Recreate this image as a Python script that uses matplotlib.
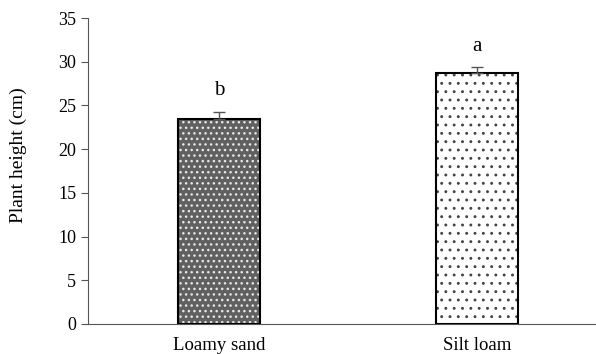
import matplotlib
matplotlib.use("Agg")
import matplotlib.pyplot as plt
import matplotlib as mpl

categories = ["Loamy sand", "Silt loam"]
heights = [23.5, 28.7]
errors = [0.8, 0.7]
letters = ["b", "a"]
yticks = [0, 5, 10, 15, 20, 25, 30, 35]

plt.rcParams['font.family'] = ['Liberation Serif', 'DejaVu Serif']

fig = plt.figure(figsize=(5.96, 3.54), dpi=100)
ax = fig.add_axes([88/596, 30/354, 1 - 88/596, 306/354])

x = [0, 1]
w = 0.318
# bar 1: dark with white dots
mpl.rcParams['hatch.linewidth'] = 1.0
ax.bar(x[0], heights[0], width=w, color='#606060', edgecolor='#e8e8e8', hatch='...', linewidth=0, zorder=2)
# bar 2: white with black dots
mpl.rcParams['hatch.linewidth'] = 0.9
ax.bar(x[1], heights[1], width=w, color='white', edgecolor='#444444', hatch='..', linewidth=0, zorder=2)
ax.bar(x, heights, width=w, color='none', edgecolor='black', linewidth=1.5, zorder=3)
ax.errorbar(x, heights, yerr=[[0, 0], errors], fmt='none', ecolor='#555555', elinewidth=1, capsize=4, capthick=1, zorder=4)

for xi, h, e, l in zip(x, heights, errors, letters):
    ax.text(xi, h + e + 1.3, l, ha='center', va='bottom', fontsize=15)

ax.set_xlim(-0.508, 1.461)
ax.set_ylim(0, 35)
ax.set_yticks(yticks)
ax.set_xticks(x)
ax.set_xticklabels(categories, fontsize=13.5)
ax.tick_params(axis='x', length=0, pad=9)
ax.tick_params(axis='y', direction='out', length=5, labelsize=13, color='#555555')
fig.text(18/596, 1 - 155/354, "Plant height (cm)", rotation=90, ha='center', va='center', fontsize=14)
for s in ['top', 'right']:
    ax.spines[s].set_visible(False)
ax.spines['left'].set_color('#555555')
ax.spines['bottom'].set_color('#555555')

fig.savefig("out.png", dpi=100)
